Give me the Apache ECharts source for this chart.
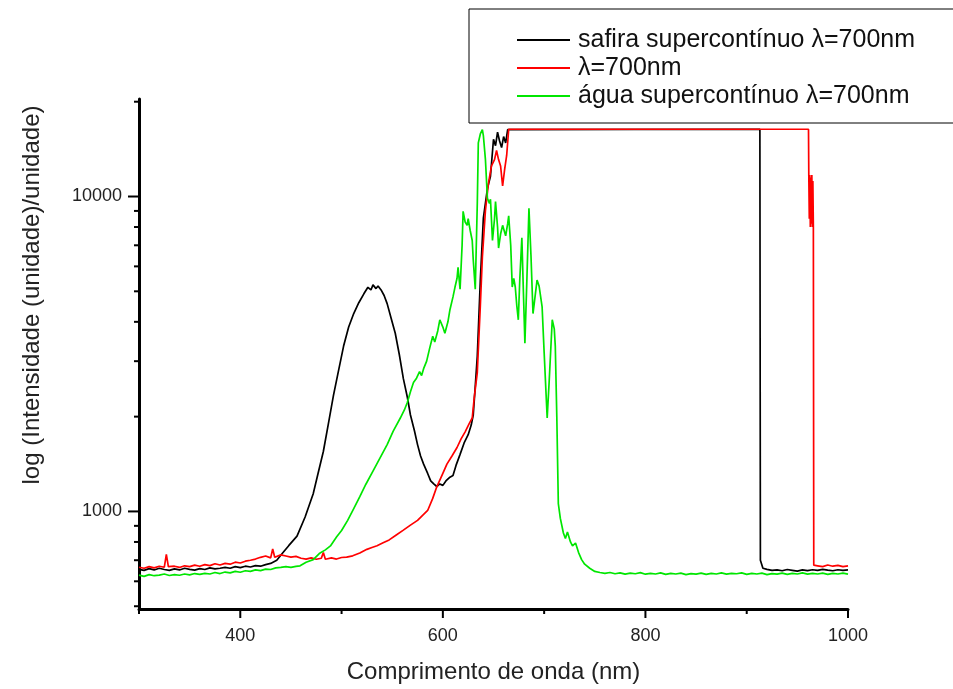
<!DOCTYPE html>
<html>
<head>
<meta charset="utf-8">
<script src="https://cdn.jsdelivr.net/npm/echarts@6/dist/echarts.min.js"></script>
<style>
html,body{margin:0;padding:0;background:#fff;}
#chart{width:953px;height:689px;}
</style>
</head>
<body>
<div id="chart"></div>
<script>
// ---- data (wavelength nm, intensity) ----
const seriesNames = ['safira supercontínuo λ=700nm', 'λ=700nm', 'água supercontínuo λ=700nm'];

const safira = [[300,655],[305,650],[310,658],[315,652],[320,660],[325,654],[330,650],[335,657],[340,652],[345,660],[350,655],[355,651],[360,658],[365,654],[370,662],[375,657],[380,660],[385,664],[390,660],[395,668],[400,663],[405,670],[410,666],[415,673],[420,670],[425,678],[430,684],[436,700],[442,739],[448,780],[456,835],[464,960],[472,1138],[477,1330],[482,1550],[487,1900],[492,2337],[497,2800],[502,3350],[507,3850],[512,4250],[517,4600],[522,4910],[526,5150],[529,5050],[531,5240],[534,5100],[536,5200],[539,5050],[542,4850],[545,4570],[549,4100],[553,3680],[557,3150],[561,2640],[565,2300],[568,2024],[572,1800],[575,1630],[578,1500],[581,1413],[585,1320],[588,1250],[591,1223],[594,1200],[597,1223],[600,1210],[603,1250],[607,1285],[610,1300],[613,1400],[617,1518],[621,1650],[625,1752],[628,1880],[630,2024],[632,2500],[634,3117],[637,5430],[640,8536],[644,10600],[647,11600],[650,15200],[652,14500],[654,16000],[656,15000],[658,14300],[660,15500],[662,14800],[664,16300],[665,16350],[913,16350],[913.5,700],[916,660],[920,655],[925,650],[930,652],[935,648],[940,654],[945,650],[950,646],[955,652],[960,649],[965,653],[970,650],[975,655],[980,651],[985,648],[990,653],[995,650],[1000,652]];

const laser = [[300,665],[305,660],[310,668],[315,662],[320,670],[325,665],[327,730],[329,668],[335,670],[340,664],[345,672],[350,668],[355,675],[360,670],[365,678],[370,673],[375,682],[380,676],[385,684],[390,680],[395,690],[400,686],[405,695],[410,700],[415,706],[420,715],[425,722],[430,712],[432,760],[434,715],[440,728],[445,722],[450,716],[455,720],[460,710],[465,706],[470,712],[475,705],[480,710],[482,740],[484,705],[490,712],[495,706],[500,714],[505,716],[511,723],[518,738],[525,758],[530,768],[535,778],[541,795],[547,812],[554,842],[561,872],[568,905],[575,937],[580,972],[585,1007],[590,1100],[594,1197],[599,1300],[604,1413],[609,1500],[614,1596],[618,1700],[622,1790],[626,1900],[629,1980],[631,2300],[634,2760],[637,4500],[639,6400],[642,9000],[645,11000],[648,12500],[651,13100],[653,14000],[655,13100],[657,12500],[659,10800],[661,12200],[663,13500],[665,16350],[961,16350],[961.3,11700],[961.8,8500],[962.3,11700],[962.8,8000],[963.3,11500],[963.8,8200],[964.3,11700],[964.8,8000],[965.3,11200],[965.8,8000],[966.2,675],[970,672],[975,668],[980,676],[985,670],[990,674],[995,668],[1000,672]];

const agua = [[300,628],[305,622],[310,630],[315,625],[320,628],[325,633],[330,626],[335,630],[340,627],[345,633],[350,629],[355,635],[360,631],[365,636],[370,633],[375,640],[380,635],[385,642],[390,638],[395,645],[400,641],[405,648],[410,645],[415,652],[420,649],[425,656],[430,654],[435,662],[440,664],[445,668],[450,664],[455,669],[459,672],[465,690],[472,703],[478,735],[484,755],[489,777],[495,830],[500,870],[506,937],[512,1020],[518,1114],[524,1220],[531,1343],[538,1480],[545,1631],[551,1800],[558,1980],[562,2100],[565,2221],[568,2400],[571,2568],[574,2650],[577,2780],[579,2700],[581,2840],[584,3000],[587,3300],[590,3599],[592,3450],[595,3750],[597,4060],[600,3850],[602,3680],[605,4000],[607,4370],[610,4800],[612,5158],[614,5500],[615,5960],[616,5500],[617,5080],[619,7000],[620,8970],[622,8300],[624,8100],[625,8500],[627,7800],[629,7250],[630,6300],[632,5080],[634,9500],[635,14800],[637,15800],[639,16300],[640,15600],[642,13150],[644,9860],[646,9500],[647,9800],[649,7250],[651,8500],[652,9630],[654,8000],[655,6860],[657,7600],[659,8100],[661,7700],[662,7500],[664,8200],[665,8680],[667,7000],[668.5,5160],[670,5500],[671.5,5160],[673,4500],[674.5,4060],[676,5500],[678,7390],[679.5,5000],[681,3420],[683,5500],[685,9170],[687,6500],[689,4250],[691,4800],[693,5430],[695,5200],[698,4460],[700,3200],[703,1980],[705,2600],[708,4060],[710,3800],[711,3350],[712.5,2000],[714,1059],[716,950],[719,854],[721,820],[723,860],[726,800],[728,777],[731,794],[734,740],[737,703],[740,680],[745,660],[750,645],[755,640],[760,636],[765,640],[770,634],[775,638],[780,632],[785,637],[790,634],[795,639],[800,632],[805,636],[810,633],[815,638],[820,631],[825,636],[830,633],[835,637],[840,630],[845,635],[850,632],[855,637],[860,631],[865,636],[870,633],[875,638],[880,632],[885,636],[890,634],[895,638],[900,631],[905,636],[910,633],[915,637],[920,630],[925,635],[930,632],[935,637],[940,631],[945,636],[950,633],[955,638],[960,632],[965,636],[970,633],[975,637],[980,631],[985,636],[990,633],[995,637],[1000,632]];

// axis ranges and ticks
const xMin = 300, xMax = 1000;
const yMin = 490, yMax = 20400;
const xMajorTicks = [400, 600, 800, 1000];
const xMinorTicks = [300, 500, 700, 900];
const yMajorTicks = [1000, 10000];
const yMinorTicks = [500, 600, 700, 800, 900, 2000, 3000, 4000, 5000, 6000, 7000, 8000, 9000, 20000];

const xTitle = 'Comprimento de onda (nm)';
const yTitle = 'log (Intensidade (unidade)/unidade)';

// ---- chart ----
const FONT = '"Liberation Sans", Arial, Helvetica, sans-serif';
const colors = ['#000000', '#ff0000', '#00e600'];
const chart = echarts.init(document.getElementById('chart'), null, {renderer: 'canvas'});

function lineSeries(name, data, color) {
  return {
    name: name, type: 'line', data: data, symbol: 'none', showSymbol: false,
    lineStyle: {color: color, width: 1.7}, itemStyle: {color: color},
    emphasis: {disabled: true}, animation: false, z: 2
  };
}

const option = {
  animation: false,
  backgroundColor: '#ffffff',
  grid: {left: 139, right: 105, top: 99, bottom: 72, containLabel: false},
  legend: {
    data: seriesNames,
    orient: 'vertical',
    left: 469, top: 9,
    padding: [17, 60, 13, 48],
    itemWidth: 53, itemHeight: 2, itemGap: 0,
    icon: 'rect',
    borderColor: '#000', borderWidth: 1, backgroundColor: '#fff',
    textStyle: {fontFamily: FONT, fontSize: 25, color: '#111', lineHeight: 28, padding: [0, 0, 0, 3]},
    selectedMode: false
  },
  xAxis: {
    type: 'value', min: xMin, max: xMax, interval: 100,
    axisLine: {onZero: false, lineStyle: {color: '#000', width: 3}},
    axisTick: {show: false},
    splitLine: {show: false},
    axisLabel: {
      margin: 18, fontFamily: FONT, fontSize: 18, color: '#222',
      formatter: function (v) { return xMajorTicks.indexOf(v) >= 0 ? String(v) : ''; }
    },
    name: xTitle, nameLocation: 'middle', nameGap: 51,
    nameTextStyle: {fontFamily: FONT, fontSize: 24, color: '#222'}
  },
  yAxis: {
    type: 'log', logBase: 10, min: yMin, max: yMax,
    axisLine: {lineStyle: {color: '#000', width: 3}},
    axisTick: {show: false},
    splitLine: {show: false},
    minorTick: {show: false},
    axisLabel: {
      margin: 17, fontFamily: FONT, fontSize: 18, color: '#222',
      showMinLabel: false, showMaxLabel: false,
      formatter: function (v) {
        const r = Math.round(v);
        return yMajorTicks.indexOf(r) >= 0 ? String(r) : '';
      }
    }
  },
  graphic: [{
    type: 'text', x: 32, y: 295, rotation: Math.PI / 2,
    style: {text: yTitle, fontFamily: FONT, fontSize: 24, fill: '#222', align: 'center', verticalAlign: 'middle'}
  }],
  series: [
    lineSeries(seriesNames[0], safira, colors[0]),
    lineSeries(seriesNames[1], laser, colors[1]),
    lineSeries(seriesNames[2], agua, colors[2]),
    {
      type: 'custom', name: 'yTicks', silent: true, clip: false, z: 5, animation: false,
      data: yMinorTicks.concat(yMajorTicks).map(function (v) { return [xMin, v]; }),
      renderItem: function (params, api) {
        const v = api.value(1);
        const p = api.coord([api.value(0), v]);
        const len = yMajorTicks.indexOf(v) >= 0 ? 11 : 5;
        return {type: 'line', shape: {x1: p[0] - len, y1: p[1], x2: p[0], y2: p[1]},
                style: {stroke: '#000', lineWidth: 2}};
      }
    },
    {
      type: 'custom', name: 'xTicks', silent: true, clip: false, z: 5, animation: false,
      data: xMinorTicks.concat(xMajorTicks).map(function (v) { return [v, yMin]; }),
      renderItem: function (params, api) {
        const v = api.value(0);
        const p = api.coord([v, api.value(1)]);
        const len = xMajorTicks.indexOf(v) >= 0 ? 9 : 5;
        return {type: 'line', shape: {x1: p[0], y1: p[1], x2: p[0], y2: p[1] + len},
                style: {stroke: '#000', lineWidth: 2}};
      }
    }
  ]
};
chart.setOption(option);
</script>
</body>
</html>
